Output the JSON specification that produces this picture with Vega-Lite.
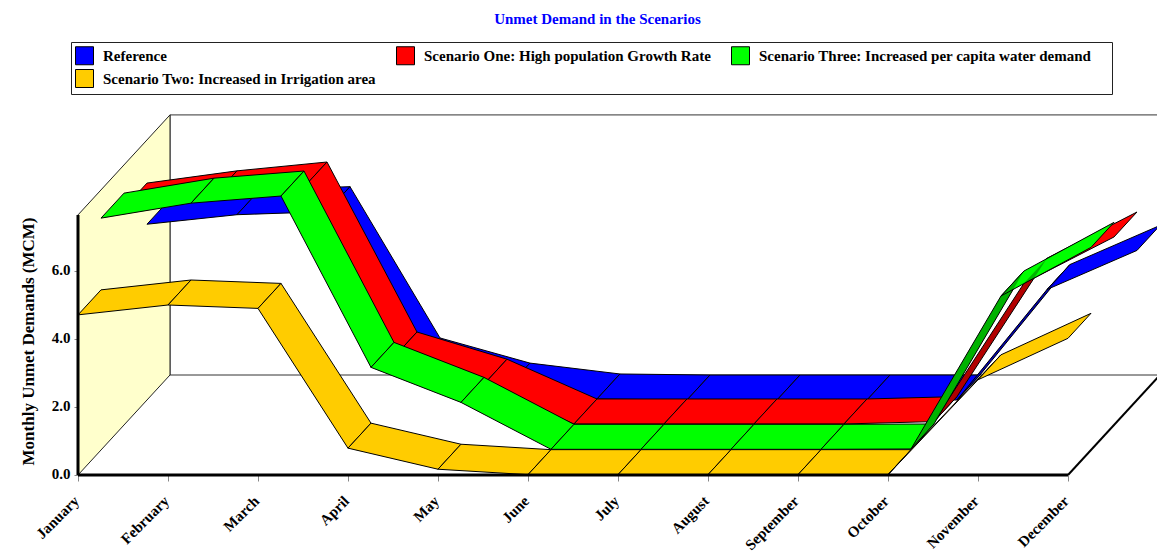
{
  "$schema": "https://vega.github.io/schema/vega-lite/v6.json",
  "width": 1079,
  "height": 361,
  "autosize": "none",
  "padding": {"left": 78, "top": 114, "right": 0, "bottom": 79},
  "background": "white",
  "view": {"stroke": null},
  "title": {
    "text": "Unmet Demand in the Scenarios",
    "color": "#0000ff",
    "font": "Liberation Serif",
    "fontWeight": "bold",
    "fontSize": 15,
    "anchor": "middle",
    "dx": -20,
    "offset": 15
  },
  "datasets": {
    "frame": [
      {"part": "backwall", "corner": 0, "month": 0, "depth": 4, "level": 0},
      {"part": "backwall", "corner": 1, "month": 11, "depth": 4, "level": 0},
      {"part": "backwall", "corner": 2, "month": 11, "depth": 4, "level": 7.65},
      {"part": "backwall", "corner": 3, "month": 0, "depth": 4, "level": 7.65},
      {"part": "backwall", "corner": 4, "month": 0, "depth": 4, "level": 0},
      {"part": "sidewall", "corner": 0, "month": 0, "depth": 0, "level": 0},
      {"part": "sidewall", "corner": 1, "month": 0, "depth": 4, "level": 0},
      {"part": "sidewall", "corner": 2, "month": 0, "depth": 4, "level": 7.65},
      {"part": "sidewall", "corner": 3, "month": 0, "depth": 0, "level": 7.65},
      {"part": "sidewall", "corner": 4, "month": 0, "depth": 0, "level": 0},
      {"part": "floorfront", "corner": 0, "month": 0, "depth": 0, "level": 0},
      {"part": "floorfront", "corner": 1, "month": 11, "depth": 0, "level": 0},
      {"part": "flooredge", "corner": 0, "month": 11, "depth": 0, "level": 0},
      {"part": "flooredge", "corner": 1, "month": 11, "depth": 4, "level": 0},
      {"part": "heightaxis", "corner": 0, "month": 0, "depth": 0, "level": 0},
      {"part": "heightaxis", "corner": 1, "month": 0, "depth": 0, "level": 7.65}
    ],
    "demand": [
      {"series": "Reference", "z": 3, "month": 0, "mcm": 5.17},
      {"series": "Reference", "z": 3, "month": 1, "mcm": 5.45},
      {"series": "Reference", "z": 3, "month": 2, "mcm": 5.54},
      {"series": "Reference", "z": 3, "month": 3, "mcm": 1.09},
      {"series": "Reference", "z": 3, "month": 4, "mcm": 0.35},
      {"series": "Reference", "z": 3, "month": 5, "mcm": 0.03},
      {"series": "Reference", "z": 3, "month": 6, "mcm": 0},
      {"series": "Reference", "z": 3, "month": 7, "mcm": 0},
      {"series": "Reference", "z": 3, "month": 8, "mcm": 0},
      {"series": "Reference", "z": 3, "month": 9, "mcm": 0},
      {"series": "Reference", "z": 3, "month": 10, "mcm": 3.25},
      {"series": "Reference", "z": 3, "month": 11, "mcm": 4.4},
      {"series": "Scenario One: High population Growth Rate", "z": 2, "month": 0, "mcm": 6.38},
      {"series": "Scenario One: High population Growth Rate", "z": 2, "month": 1, "mcm": 6.74},
      {"series": "Scenario One: High population Growth Rate", "z": 2, "month": 2, "mcm": 7.0},
      {"series": "Scenario One: High population Growth Rate", "z": 2, "month": 3, "mcm": 2.0},
      {"series": "Scenario One: High population Growth Rate", "z": 2, "month": 4, "mcm": 1.2},
      {"series": "Scenario One: High population Growth Rate", "z": 2, "month": 5, "mcm": 0.03},
      {"series": "Scenario One: High population Growth Rate", "z": 2, "month": 6, "mcm": 0.03},
      {"series": "Scenario One: High population Growth Rate", "z": 2, "month": 7, "mcm": 0.03},
      {"series": "Scenario One: High population Growth Rate", "z": 2, "month": 8, "mcm": 0.03},
      {"series": "Scenario One: High population Growth Rate", "z": 2, "month": 9, "mcm": 0.1},
      {"series": "Scenario One: High population Growth Rate", "z": 2, "month": 10, "mcm": 4.17},
      {"series": "Scenario One: High population Growth Rate", "z": 2, "month": 11, "mcm": 5.53},
      {"series": "Scenario Three: Increased per capita water demand", "z": 1, "month": 0, "mcm": 6.82},
      {"series": "Scenario Three: Increased per capita water demand", "z": 1, "month": 1, "mcm": 7.26},
      {"series": "Scenario Three: Increased per capita water demand", "z": 1, "month": 2, "mcm": 7.47},
      {"series": "Scenario Three: Increased per capita water demand", "z": 1, "month": 3, "mcm": 2.43},
      {"series": "Scenario Three: Increased per capita water demand", "z": 1, "month": 4, "mcm": 1.4},
      {"series": "Scenario Three: Increased per capita water demand", "z": 1, "month": 5, "mcm": 0.02},
      {"series": "Scenario Three: Increased per capita water demand", "z": 1, "month": 6, "mcm": 0.02},
      {"series": "Scenario Three: Increased per capita water demand", "z": 1, "month": 7, "mcm": 0.02},
      {"series": "Scenario Three: Increased per capita water demand", "z": 1, "month": 8, "mcm": 0.02},
      {"series": "Scenario Three: Increased per capita water demand", "z": 1, "month": 9, "mcm": 0.03},
      {"series": "Scenario Three: Increased per capita water demand", "z": 1, "month": 10, "mcm": 4.53},
      {"series": "Scenario Three: Increased per capita water demand", "z": 1, "month": 11, "mcm": 5.96},
      {"series": "Scenario Two: Increased in Irrigation area", "z": 0, "month": 0, "mcm": 4.71},
      {"series": "Scenario Two: Increased in Irrigation area", "z": 0, "month": 1, "mcm": 5.0},
      {"series": "Scenario Two: Increased in Irrigation area", "z": 0, "month": 2, "mcm": 4.9},
      {"series": "Scenario Two: Increased in Irrigation area", "z": 0, "month": 3, "mcm": 0.79},
      {"series": "Scenario Two: Increased in Irrigation area", "z": 0, "month": 4, "mcm": 0.17},
      {"series": "Scenario Two: Increased in Irrigation area", "z": 0, "month": 5, "mcm": 0.01},
      {"series": "Scenario Two: Increased in Irrigation area", "z": 0, "month": 6, "mcm": 0.01},
      {"series": "Scenario Two: Increased in Irrigation area", "z": 0, "month": 7, "mcm": 0.01},
      {"series": "Scenario Two: Increased in Irrigation area", "z": 0, "month": 8, "mcm": 0.01},
      {"series": "Scenario Two: Increased in Irrigation area", "z": 0, "month": 9, "mcm": 0.01},
      {"series": "Scenario Two: Increased in Irrigation area", "z": 0, "month": 10, "mcm": 2.8},
      {"series": "Scenario Two: Increased in Irrigation area", "z": 0, "month": 11, "mcm": 4.02}
    ]
  },
  "encoding": {
    "x": {
      "field": "px",
      "type": "quantitative",
      "scale": {"domain": [0, 11.989], "nice": false, "zero": false},
      "axis": {
        "title": null,
        "domain": false,
        "grid": false,
        "values": [0, 1, 2, 3, 4, 5, 6, 7, 8, 9, 10, 11],
        "labelExpr": "['January','February','March','April','May','June','July','August','September','October','November','December'][datum.value]",
        "labelFont": "Liberation Serif",
        "labelFontWeight": "bold",
        "labelFontSize": 15,
        "labelColor": "#000000",
        "labelAngle": -45,
        "labelAlign": "right",
        "labelBaseline": "middle",
        "labelPadding": 17,
        "labelOffset": -2,
        "labelOverlap": false,
        "labelBound": false,
        "labelFlush": false,
        "tickColor": "#888888",
        "tickSize": 6
      }
    },
    "y": {
      "field": "py",
      "type": "quantitative",
      "scale": {"domain": [0, 10.618], "nice": false, "zero": false},
      "axis": {
        "title": "Monthly Unmet Demands (MCM)",
        "titleFont": "Liberation Serif",
        "titleFontWeight": "bold",
        "titleFontSize": 17,
        "titleColor": "#000000",
        "titleX": -41,
        "titleY": 227,
        "domain": false,
        "grid": false,
        "values": [0, 2, 4, 6],
        "format": ".1f",
        "labelFont": "Liberation Serif",
        "labelFontWeight": "bold",
        "labelFontSize": 15,
        "labelColor": "#000000",
        "labelOffset": -1.5,
        "tickColor": "#888888",
        "tickSize": 4,
        "labelPadding": 4
      }
    }
  },
  "layer": [
    {
      "data": {"name": "frame"},
      "transform": [
        {"filter": "datum.part === 'backwall'"},
        {"calculate": "datum.month + datum.depth * 23 / 90", "as": "px"},
        {"calculate": "datum.level + datum.depth * 25 / 34", "as": "py"}
      ],
      "mark": {"type": "line", "filled": true, "fill": "white", "stroke": "#333333", "strokeWidth": 1, "clip": true},
      "encoding": {"order": {"field": "corner", "type": "quantitative"}}
    },
    {
      "data": {"name": "frame"},
      "transform": [
        {"filter": "datum.part === 'sidewall'"},
        {"calculate": "datum.month + datum.depth * 23 / 90", "as": "px"},
        {"calculate": "datum.level + datum.depth * 25 / 34", "as": "py"}
      ],
      "mark": {"type": "line", "filled": true, "fill": "#ffffcc", "stroke": "#222222", "strokeWidth": 1},
      "encoding": {"order": {"field": "corner", "type": "quantitative"}}
    },
    {
      "data": {"name": "frame"},
      "transform": [
        {"filter": "datum.part === 'flooredge'"},
        {"calculate": "datum.month + datum.depth * 23 / 90", "as": "px"},
        {"calculate": "datum.level + datum.depth * 25 / 34", "as": "py"}
      ],
      "mark": {"type": "line", "color": "#000000", "strokeWidth": 2},
      "encoding": {"order": {"field": "corner", "type": "quantitative"}}
    },
    {
      "data": {"name": "demand"},
      "transform": [
        {"window": [{"op": "lead", "field": "mcm", "as": "nextMcm"}], "groupby": ["series"], "sort": [{"field": "month"}]},
        {"filter": "datum.month < 11"},
        {"calculate": "[0, 1, 2, 3, 4]", "as": "corner"},
        {"flatten": ["corner"]},
        {"calculate": "datum.corner === 1 || datum.corner === 2", "as": "atNext"},
        {"calculate": "datum.z + (datum.corner === 2 || datum.corner === 3 ? 1 : 0)", "as": "depth"},
        {"calculate": "datum.month + (datum.atNext ? 1 : 0) + datum.depth * 23 / 90", "as": "px"},
        {"calculate": "(datum.atNext ? datum.nextMcm : datum.mcm) + datum.depth * 25 / 34", "as": "py"}
      ],
      "mark": {"type": "line", "filled": true, "stroke": "#000000", "strokeWidth": 1, "strokeJoin": "round", "clip": true},
      "encoding": {
        "detail": {"field": "month", "type": "nominal"},
        "order": {"field": "corner", "type": "quantitative"},
        "color": {
          "field": "series",
          "type": "nominal",
          "scale": {
            "domain": ["Reference", "Scenario Three: Increased per capita water demand", "Scenario One: High population Growth Rate", "Scenario Two: Increased in Irrigation area"],
            "range": ["#0000ff", "#00ff00", "#ff0000", "#ffcc00"]
          },
          "legend": {
            "orient": "none",
            "legendX": -7,
            "legendY": -72,
            "columns": 3,
            "title": " ",
            "titleOrient": "right",
            "titlePadding": 16,
            "padding": 4,
            "strokeColor": "#222222",
            "fillColor": "#ffffff",
            "symbolType": "square",
            "symbolSize": 324,
            "symbolStrokeColor": "#000000",
            "symbolStrokeWidth": 1,
            "labelFont": "Liberation Serif",
            "labelFontWeight": "bold",
            "labelFontSize": 15,
            "labelColor": "#000000",
            "labelLimit": 500,
            "labelOffset": 9,
            "columnPadding": 18,
            "rowPadding": 0
          }
        }
      }
    },
    {
      "data": {"name": "demand"},
      "description": "The October to November rise faces away from the light, so it is shaded darker.",
      "transform": [
        {"window": [{"op": "lead", "field": "mcm", "as": "nextMcm"}], "groupby": ["series"], "sort": [{"field": "month"}]},
        {"filter": "datum.month === 9 && datum.z > 0"},
        {"calculate": "[0, 1, 2, 3, 4]", "as": "corner"},
        {"flatten": ["corner"]},
        {"calculate": "datum.corner === 1 || datum.corner === 2", "as": "atNext"},
        {"calculate": "datum.z + (datum.corner === 2 || datum.corner === 3 ? 1 : 0)", "as": "depth"},
        {"calculate": "datum.month + (datum.atNext ? 1 : 0) + datum.depth * 23 / 90", "as": "px"},
        {"calculate": "(datum.atNext ? datum.nextMcm : datum.mcm) + datum.depth * 25 / 34", "as": "py"}
      ],
      "mark": {"type": "line", "filled": true, "fill": "#000000", "fillOpacity": 0.3, "strokeWidth": 0},
      "encoding": {
        "detail": {"field": "series", "type": "nominal"},
        "order": {"field": "corner", "type": "quantitative"}
      }
    },
    {
      "data": {"name": "frame"},
      "transform": [
        {"filter": "datum.part === 'floorfront' || datum.part === 'heightaxis'"},
        {"calculate": "datum.month + datum.depth * 23 / 90", "as": "px"},
        {"calculate": "datum.level + datum.depth * 25 / 34", "as": "py"}
      ],
      "mark": {"type": "line", "color": "#000000", "strokeWidth": 3},
      "encoding": {
        "detail": {"field": "part", "type": "nominal"},
        "order": {"field": "corner", "type": "quantitative"}
      }
    }
  ]
}
